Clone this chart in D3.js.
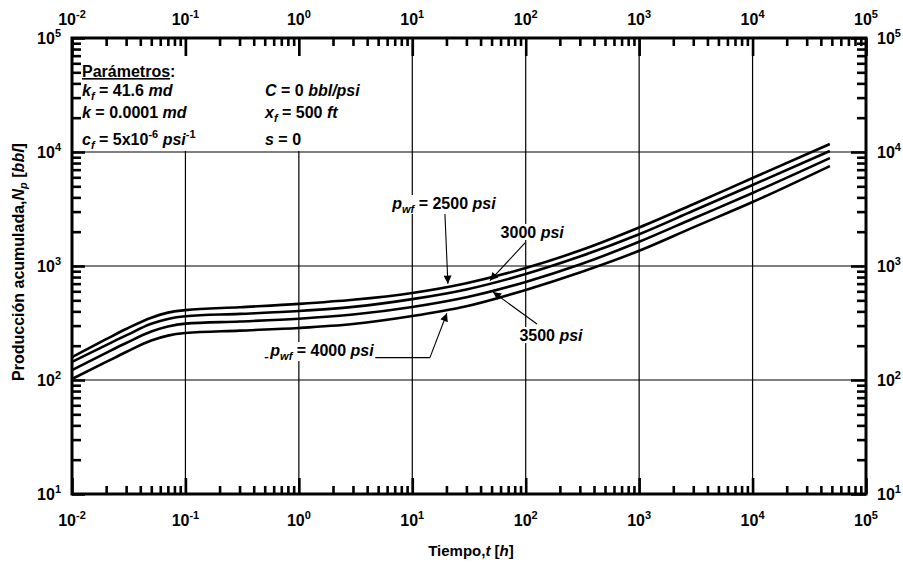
<!DOCTYPE html>
<html><head><meta charset="utf-8">
<script src="https://cdn.jsdelivr.net/npm/d3@7"></script>
<style>
body{margin:0;background:#fff}
svg{display:block}
text{font-family:"Liberation Sans",Arial,Helvetica,sans-serif;font-weight:bold;fill:#000}
</style>
</head><body>
<svg id="c" width="903" height="565"></svg>
<script>
// ---- data ----
const time   = [0.01,0.02,0.03,0.05,0.07,0.1,0.3,1,3,10,30,100,300,1000,3000,10000,48000];
const np2500 = [159,228,280,352,390,410,435,465,505,580,706,960,1365,2175,3480,5916,11750];
const np3000 = [144,202,246,311,343,362,380,403,438,512,623,851,1210,1900,3050,5140,10210];
const np3500 = [122,173,211,266,294,312,326,345,375,437,532,725,1030,1630,2610,4370,8850];
const np4000 = [102,144,176,222,245,258,271,286,310,364,444,617,877,1360,2180,3640,7530];
const series = [np2500, np3000, np3500, np4000];

const xExp = [-2,-1,0,1,2,3,4,5];
const yExp = [1,2,3,4,5];

// annotations (data coordinates)
const annPrefix = [true,false,false,true];
const annValue  = ["2500","3000","3500","4000"];
const annLabelT = [19, 114, 167, 1.6];
const annLabelN = [3570, 1990, 248, 183];
const annTailT  = [19.4, 98.6, 125.7, 14.3];
const annTailN  = [2860, 1592, 310, 157];
const annHeadT  = [20.6, 48.4, 51.5, 20.2];
const annHeadN  = [700, 745, 590, 385];
// leader line under the 4000 psi label (start time of the line)
const leaderStartT = 0.5;

// ---- layout ----
const L=72, R=866, T=38, B=494;
const svg = d3.select("#c");
const x = d3.scaleLog().domain([1e-2,1e5]).range([L,R]);
const y = d3.scaleLog().domain([1e1,1e5]).range([B,T]);

const xMajor = xExp.map(e=>Math.pow(10,e));
const yMajor = yExp.map(e=>Math.pow(10,e));
const isMajor = (arr)=> v => arr.some(M=>Math.abs(v/M-1)<1e-9);
const xMinor = x.ticks().filter(v=>!isMajor(xMajor)(v));
const yMinor = y.ticks().filter(v=>!isMajor(yMajor)(v));

// grid
const grid = svg.append("g").attr("stroke","#000").attr("stroke-width",1.2);
grid.selectAll(".gx").data(xMajor.slice(1,-1)).enter().append("line")
  .attr("x1",d=>x(d)).attr("x2",d=>x(d)).attr("y1",T).attr("y2",B);
grid.selectAll(".gy").data(yMajor.slice(1,-1)).enter().append("line")
  .attr("y1",d=>y(d)).attr("y2",d=>y(d)).attr("x1",L).attr("x2",R);

// parameter box background
svg.append("rect").attr("x",L+2).attr("y",56).attr("width",298).attr("height",95).attr("fill","#fff");

// curves
const line = d3.line().x((d,i)=>x(time[i])).y(d=>y(d)).curve(d3.curveMonotoneX);
svg.append("g").selectAll("path").data(series).enter().append("path")
  .attr("d",line).attr("fill","none").attr("stroke","#000").attr("stroke-width",2.6);

// arrow marker
svg.append("defs").append("marker").attr("id","ah")
  .attr("viewBox","0 0 10 10").attr("refX",10).attr("refY",5)
  .attr("markerWidth",11).attr("markerHeight",8).attr("markerUnits","userSpaceOnUse")
  .attr("orient","auto")
  .append("path").attr("d","M0,0 L10,5 L0,10 Z").attr("fill","#000");

const ann = svg.append("g");
// leader line for 4000 label
ann.append("line")
  .attr("x1",x(leaderStartT)).attr("x2",x(annTailT[3]))
  .attr("y1",y(annTailN[3])).attr("y2",y(annTailN[3]))
  .attr("stroke","#000").attr("stroke-width",1.1);
annValue.forEach((v,i)=>{
  ann.append("line")
    .attr("x1",x(annTailT[i])).attr("y1",y(annTailN[i]))
    .attr("x2",x(annHeadT[i])).attr("y2",y(annHeadN[i]))
    .attr("stroke","#000").attr("stroke-width",1.1).attr("marker-end","url(#ah)");
});
annValue.forEach((v,i)=>{
  const g = ann.append("g");
  const t = g.append("text").attr("x",x(annLabelT[i])).attr("y",y(annLabelN[i])+6)
    .attr("text-anchor","middle").style("font-size","16px");
  if(annPrefix[i]){
    t.append("tspan").style("font-style","italic").text("p");
    t.append("tspan").style("font-style","italic").style("font-size","11px").attr("dy",4).text("wf");
    t.append("tspan").attr("dy",-4).text(" = " + v + " ");
  } else {
    t.append("tspan").text(v + " ");
  }
  t.append("tspan").style("font-style","italic").text("psi");
  const bb = t.node().getBBox();
  g.insert("rect","text").attr("x",bb.x-1).attr("y",bb.y).attr("width",bb.width+2).attr("height",bb.height-1).attr("fill","#fff");
});

// parameters text
function rich(xp, yp, segs){
  const t = svg.append("text").attr("x",xp).attr("y",yp).style("font-size","16px");
  segs.forEach(s=>{
    const ts = t.append("tspan").text(s.t);
    if(s.i) ts.style("font-style","italic");
    if(s.sub){ ts.style("font-size","11px").attr("dy",4); }
    if(s.sup){ ts.style("font-size","11px").attr("dy",-7); }
    if(s.dy) ts.attr("dy",s.dy);
    if(s.u) ts.style("text-decoration","underline");
  });
  return t;
}
const px=82, px2=265;
rich(px,77,[{t:"Parámetros",u:true},{t:":"}]);
rich(px,96,[{t:"k",i:true},{t:"f",i:true,sub:true},{t:" = 41.6 ",dy:-4},{t:"md",i:true}]);
rich(px,118,[{t:"k",i:true},{t:" = 0.0001 "},{t:"md",i:true}]);
rich(px,145,[{t:"c",i:true},{t:"f",i:true,sub:true},{t:" = 5x10",dy:-4},{t:"-6",sup:true},{t:" ",dy:7},{t:"psi",i:true},{t:"-1",sup:true}]);
rich(px2,96,[{t:"C",i:true},{t:" = 0 "},{t:"bbl/psi",i:true}]);
rich(px2,118,[{t:"x",i:true},{t:"f",i:true,sub:true},{t:" = 500 ",dy:-4},{t:"ft",i:true}]);
rich(px2,145,[{t:"s",i:true},{t:" = 0"}]);

// ticks via d3 axes
function ticks(gen, tr, vals, size){
  svg.append("g").attr("transform",tr)
    .call(gen.tickValues(vals).tickSize(size).tickFormat(""))
    .call(g=>g.select(".domain").remove())
    .selectAll("line").attr("stroke","#000").attr("stroke-width",2.6);
}
ticks(d3.axisBottom(x),`translate(0,${B})`,xMinor,-8);
ticks(d3.axisBottom(x),`translate(0,${B})`,xMajor,-16);
ticks(d3.axisTop(x),`translate(0,${T})`,xMinor,-8);
ticks(d3.axisTop(x),`translate(0,${T})`,xMajor,-18);
ticks(d3.axisLeft(y),`translate(${L},0)`,yMinor,-9);
ticks(d3.axisLeft(y),`translate(${L},0)`,yMajor,-13);
ticks(d3.axisRight(y),`translate(${R},0)`,yMinor,-9);
ticks(d3.axisRight(y),`translate(${R},0)`,yMajor,-15);

// frame
svg.append("rect").attr("x",L).attr("y",T).attr("width",R-L).attr("height",B-T)
  .attr("fill","none").attr("stroke","#000").attr("stroke-width",3);

// tick labels
function pow10(sel, e){
  sel.append("tspan").text("10");
  sel.append("tspan").attr("dy",-7).style("font-size","11px").text(e);
}
xExp.forEach(e=>{
  pow10(svg.append("text").attr("x",x(Math.pow(10,e))).attr("y",526).attr("text-anchor","middle").style("font-size","16px"), e);
  pow10(svg.append("text").attr("x",x(Math.pow(10,e))).attr("y",25).attr("text-anchor","middle").style("font-size","16px"), e);
});
yExp.forEach(e=>{
  pow10(svg.append("text").attr("x",61).attr("y",y(Math.pow(10,e))+6).attr("text-anchor","end").style("font-size","16px"), e);
  pow10(svg.append("text").attr("x",877).attr("y",y(Math.pow(10,e))+6).attr("text-anchor","start").style("font-size","16px"), e);
});

// axis titles
const xt = svg.append("text").attr("x",471).attr("y",556).attr("text-anchor","middle").style("font-size","15px");
xt.append("tspan").text("Tiempo,");
xt.append("tspan").style("font-style","italic").text("t");
xt.append("tspan").text(" [");
xt.append("tspan").style("font-style","italic").text("h");
xt.append("tspan").text("]");

const yt = svg.append("text").attr("transform",`translate(24,262) rotate(-90)`)
  .attr("text-anchor","middle").style("font-size","16px");
yt.append("tspan").text("Producción acumulada,");
yt.append("tspan").style("font-style","italic").text("N");
yt.append("tspan").style("font-style","italic").style("font-size","11px").attr("dy",3).text("p");
yt.append("tspan").attr("dy",-3).text(" [");
yt.append("tspan").style("font-style","italic").text("bbl");
yt.append("tspan").text("]");
</script>
</body></html>
